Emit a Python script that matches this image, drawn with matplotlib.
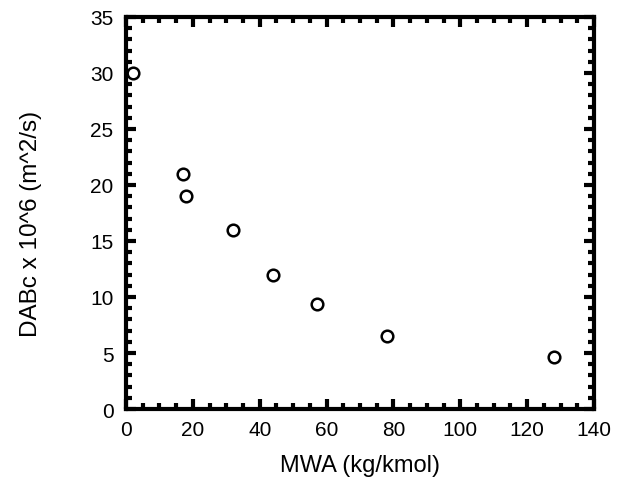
import matplotlib
matplotlib.use("Agg")
import matplotlib.pyplot as plt
from matplotlib.ticker import MultipleLocator

plt.rcParams['font.family'] = ['Liberation Sans', 'DejaVu Sans']

MWA = [2, 17, 18, 32, 44, 57, 78, 128]
DAB = [30, 21, 19, 16, 12, 9.4, 6.5, 4.6]

fig = plt.figure(figsize=(6.19, 4.85), dpi=100)
ax = fig.add_axes([0.2036, 0.1546, 0.9596 - 0.2036, 0.963 - 0.1546])

ax.scatter(MWA, DAB, s=70, facecolors='white', edgecolors='black', linewidths=1.8, zorder=3, clip_on=False)

ax.set_xlim(0, 140)
ax.set_ylim(0, 35)
ax.xaxis.set_major_locator(MultipleLocator(20))
ax.xaxis.set_minor_locator(MultipleLocator(5))
ax.yaxis.set_major_locator(MultipleLocator(5))
ax.yaxis.set_minor_locator(MultipleLocator(1))

for s in ax.spines.values():
    s.set_linewidth(3)
ax.tick_params(which='both', direction='in', top=True, right=True, width=3, labelsize=15)
ax.tick_params(axis='x', pad=8)
ax.tick_params(axis='y', pad=9)
ax.tick_params(which='major', length=7)
ax.tick_params(which='minor', length=4)

ax.set_xlabel('MWA (kg/kmol)', fontsize=17, labelpad=11)
ax.set_ylabel('DABc x 10^6 (m^2/s)', fontsize=17.5, labelpad=35)
ax.yaxis.label.set_y(0.475)

fig.savefig('out.png', dpi=100)
